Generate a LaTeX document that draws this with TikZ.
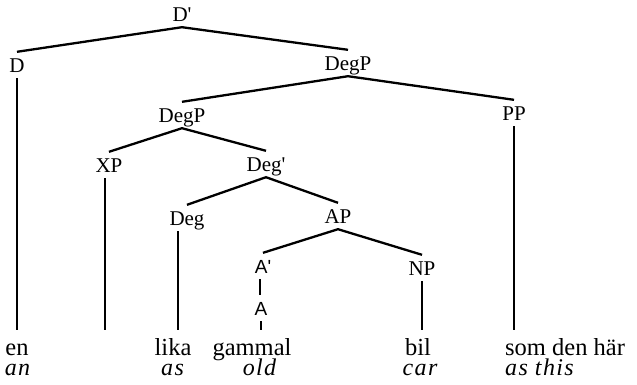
\documentclass[tikz,border=0pt]{standalone}
\usepackage{fontspec}
\setmainfont{Liberation Serif}
\newfontfamily\labsans{Liberation Sans}
\newcommand\mchar[1]{#1\kern1.4pt}
\def\monoloop#1{\ifx#1\relax\else\mchar{#1}\expandafter\monoloop\fi}
\newcommand\glossmono[1]{\monoloop#1\relax\kern-1.4pt}
\tikzset{
  lab/.style={font=\fontsize{21}{24}\selectfont, inner xsep=0pt, inner ysep=6pt, text height=14pt, text depth=0pt},
  labs/.style={lab, font=\fontsize{19}{22}\selectfont\labsans},
  word/.style={font=\fontsize{24.5}{28}\selectfont, inner sep=0pt, text height=25pt, text depth=0pt, anchor=base},
  gloss/.style={font=\fontsize{24}{28}\selectfont\itshape, inner sep=0pt, text height=12pt, anchor=base},
  branch/.style={line width=2.3pt},
  stem/.style={line width=1.7pt},
}
\begin{document}
\begin{tikzpicture}[x=1pt,y=-1pt]
\useasboundingbox (0,0) rectangle (637,384);
% labels
\node[lab] (Dp) at (182,14) {D\textquotesingle};
\node[lab] (D) at (17,65) {D};
\node[lab] (DegP1) at (348,63) {DegP};
\node[lab] (DegP2) at (182,115) {DegP};
\node[lab] (PP) at (514,113) {PP};
\node[lab] (XP) at (109,165) {XP};
\node[lab] (Degb) at (266,164) {Deg\textquotesingle};
\node[lab] (Deg) at (187,218) {Deg};
\node[lab] (AP) at (338,216) {AP};
\node[labs] (Ab) at (263,266) {A\textquotesingle};
\node[lab] (NP) at (422,268) {NP};
\node[labs] (A) at (261,308) {A};
% words
\node[word] (en) at (17,355) {en};
\node[word] (lika) at (173,355) {lika};
\node[word] (gammal) at (252,355) {gammal};
\node[word] (bil) at (418,355) {bil};
\node[word, anchor=base west] (som) at (505,355) {som den här};
% glosses
\node[gloss] (an) at (17.5,375) {\glossmono{an}};
\node[gloss] (as) at (172.5,375) {\glossmono{as}};
\node[gloss] (old) at (259.5,375) {\glossmono{old}};
\node[gloss] (car) at (420,375) {\glossmono{car}};
\node[gloss, anchor=base west] (asthis) at (505,375) {\glossmono{as}\hspace{7pt}\glossmono{this}};
\coordinate (xpend) at (105,330);
% branches
\draw[branch] (D.north) -- (Dp.south) -- (DegP1.north);
\draw[branch] (DegP2.north) -- (DegP1.south) -- (PP.north);
\draw[branch] (XP.north) -- (DegP2.south) -- (Degb.north);
\draw[branch] (Deg.north) -- (Degb.south) -- (AP.north);
\draw[branch] (Ab.north) -- (AP.south) -- (NP.north);
% stems
\draw[stem] (D.south) -- (D.south |- en.north);
\draw[stem, line width=1.3pt] ([xshift=-4pt]XP.south) -- (xpend);
\draw[stem] ([xshift=-9pt]Deg.south) coordinate (ds) -- (ds |- lika.north);
\draw[stem] ([xshift=-3pt]Ab.south) coordinate (as1) -- (as1 |- A.north);
\draw[stem] (A.south) -- (A.south |- gammal.north);
\draw[stem] (NP.south) -- (NP.south |- bil.north);
\draw[stem] (PP.south) -- (PP.south |- som.north);
\end{tikzpicture}
\end{document}
